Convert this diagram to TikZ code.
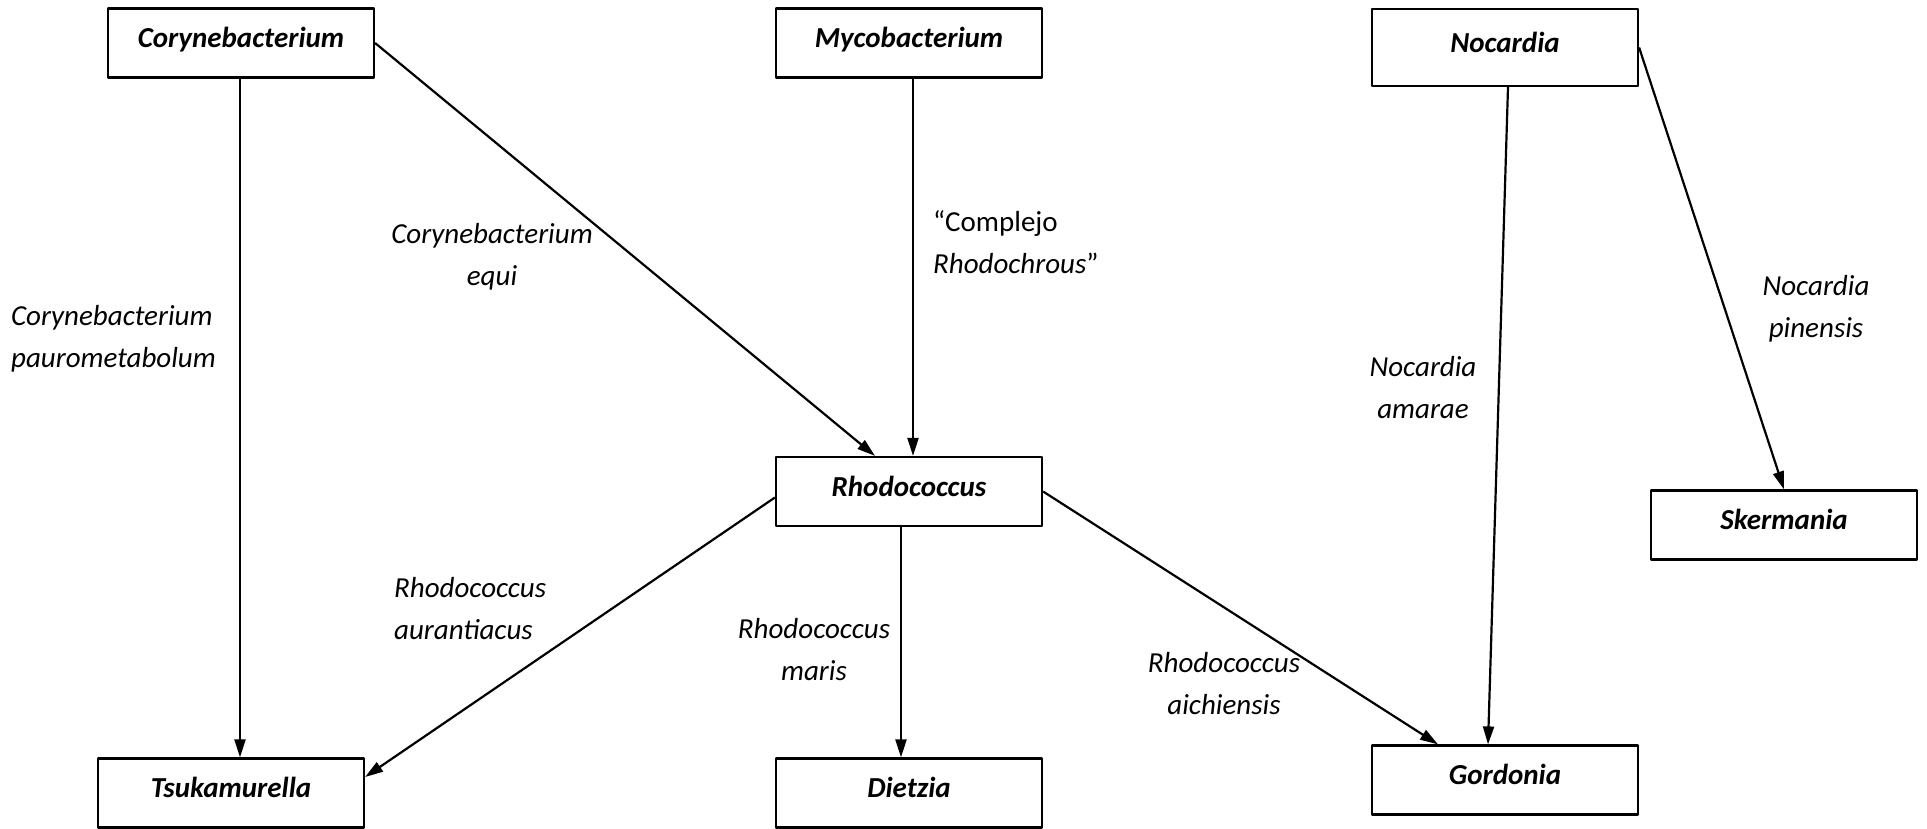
\documentclass[tikz,border=0pt]{standalone}
\usepackage{fontspec}
\setmainfont{Carlito}
\usetikzlibrary{arrows.meta,calc}
\begin{document}
\begin{tikzpicture}[x=1pt, y=-1pt, line width=2.2pt, line join=round,
	font=\fontsize{29}{42}\selectfont,
	genus/.style={draw, minimum width=266pt, minimum height=69pt, text height=20pt, text depth=11pt, font=\fontsize{29}{42}\selectfont\bfseries\itshape},
	sp/.style={font=\fontsize{29}{42}\selectfont\itshape, align=center, inner sep=0pt},
	>={Triangle[length=18pt, width=11pt]}]
	\useasboundingbox (0,0) rectangle (1927,828);
	% genera
	\node[genus] (C) at (241,43) {Corynebacterium};
	\node[genus] (M) at (909,43) {Mycobacterium};
	\node[genus, minimum height=77pt] (N) at (1505,47.5) {Nocardia};
	\node[genus] (R) at (909,491.5) {Rhodococcus};
	\node[genus] (S) at (1784,525) {Skermania};
	\node[genus] (T) at (231,793) {Tsukamurella};
	\node[genus] (D) at (909,793) {Dietzia};
	\node[genus] (G) at (1505,780) {Gordonia};
	% arrows
	\coordinate (c1) at ($(C.south)+(-1,0)$);
	\coordinate (r1) at ($(R.south)+(-8,0)$);
	\draw[->] (c1) -- (c1 |- T.north);
	\draw[->] (C.east) -- ($(R.north)+(-34,0)$);
	\draw[->] ($(M.south)+(4,0)$) -- ($(R.north)+(4,0)$);
	\draw[->] ($(N.south)+(3,0)$) -- ($(G.north)+(-17,0)$);
	\draw[->] (N.east) -- (S.north);
	\draw[->] ($(R.west)+(0,6)$) -- ($(T.east)+(0,-16)$);
	\draw[->] (r1) -- (r1 |- D.north);
	\draw[->] (R.east) -- ($(G.north)+(-67,0)$);
	% species
	\node[sp, anchor=west, align=left] (cp) at (10,339) {Corynebacterium\\paurometabolum};
	\node[sp] (ce) at (492,257) {Corynebacterium\\equi};
	\node[sp, anchor=west, align=left] (cr) at (932,242) {\upshape“Complejo\\Rhodochrous\upshape”};
	\node[sp] (np) at (1816,309) {Nocardia\\pinensis};
	\node[sp] (na) at (1423,388) {Nocardia\\amarae};
	\node[sp, anchor=west, align=left] (ra) at (393,609) {Rhodococcus\\aurantiacus};
	\node[sp] (rm) at (814,650) {Rhodococcus\\maris};
	\node[sp] (rc) at (1224,684) {Rhodococcus\\aichiensis};
\end{tikzpicture}
\end{document}
